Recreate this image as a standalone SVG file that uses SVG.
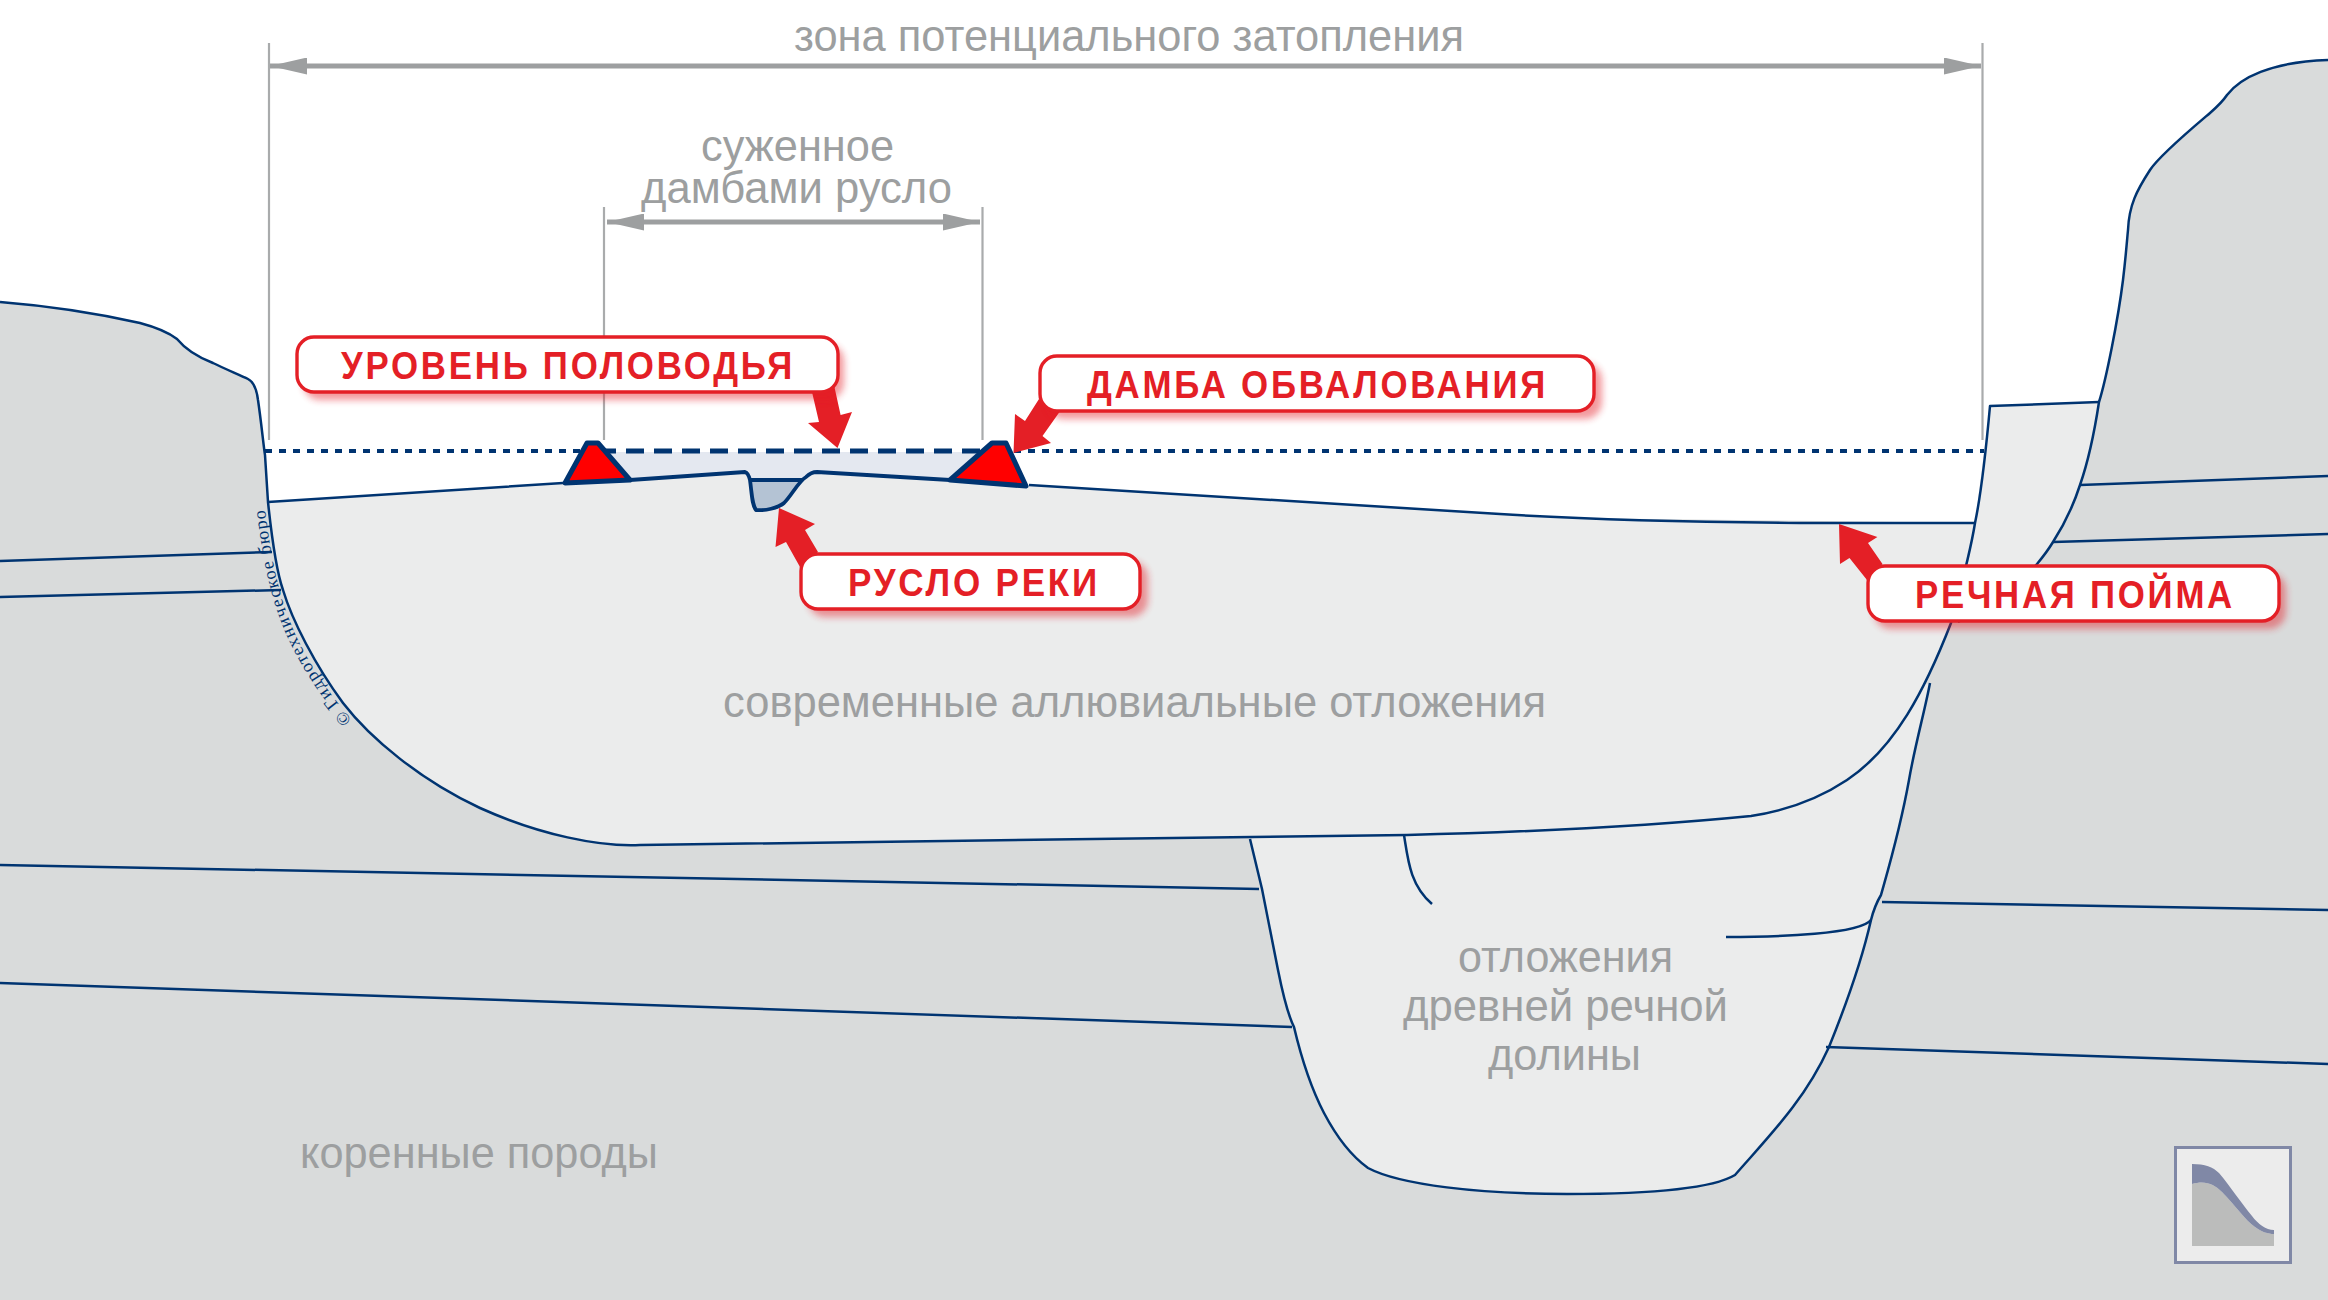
<svg xmlns="http://www.w3.org/2000/svg" width="2328" height="1300" viewBox="0 0 2328 1300">
<style>
.rock{fill:#d9dbdb;stroke:none}
.light{fill:#ebecec;stroke:none}
.ln{fill:none;stroke:#003471;stroke-width:2.5;stroke-linejoin:round}
.dim{fill:none;stroke:#a9abac;stroke-width:2.2}
.dimarrow{fill:none;stroke:#9d9fa0;stroke-width:5}
.t{font-family:"Liberation Sans",Arial,sans-serif;font-size:44px;fill:#9d9fa0}
.lb{fill:#fff;stroke:#e41f26;stroke-width:3.4}
.sh{fill:#e41f26;opacity:.45;filter:url(#blur)}
.lt{font-family:"Liberation Sans",Arial,sans-serif;font-size:38px;font-weight:bold;fill:#e41f26;letter-spacing:3px}
.ra{fill:#e41f26}
.dam{fill:#ff0000;stroke:#003471;stroke-width:5;stroke-linejoin:round}
</style>
<defs>
<filter id="blur" x="-10%" y="-40%" width="120%" height="180%"><feGaussianBlur stdDeviation="3.5"/></filter>
<marker id="ah" viewBox="0 0 37 17" refX="37" refY="8.5" markerWidth="37" markerHeight="17" markerUnits="userSpaceOnUse" orient="auto-start-reverse"><path d="M0,0L37,8.5L0,17Z" fill="#9d9fa0"/></marker>
<path id="cp" d="M352,720C320,684 293,640 280,592C272,562 268,535 264,500"/>
</defs>
<rect width="2328" height="1300" fill="#fff"/>

<g id="bedrock">
<path class="rock" d="M0,302C50,306 100,314 140,323C155,327 168,332 177,339C186,350 200,358 213,363C225,369 240,375 248,379C254,382 257,392 258,400C261,420 264,450 265,455L268,502L1975,523L2099,402C2106,380 2118,320 2123,280C2126,255 2127,240 2128,230C2129,205 2137,190 2150,170C2160,155 2190,130 2210,113C2218,106 2223,101 2227,95C2240,78 2270,62 2328,60V1300H0Z"/>
</g>
<g id="ancient-valley">
<path class="light" d="M1250,839L1262,889L1278,970C1283,995 1288,1015 1294,1027C1303,1065 1312,1090 1324,1113C1334,1132 1350,1155 1368,1168C1400,1185 1480,1194 1567,1194C1640,1194 1710,1190 1735,1175C1770,1135 1805,1100 1829,1047C1848,1000 1862,960 1871,920C1874,908 1878,900 1881,895C1888,870 1900,830 1909,780C1915,745 1925,710 1930,683Z"/>
</g>
<g id="right-band">
<path class="light" d="M1990,406L2099,402C2094,435 2088,462 2080,485C2072,510 2062,528 2053,542C2047,552 2042,558 2037,564C2015,588 1990,606 1958,622L1975,523Z"/>
</g>
<g id="alluvium">
<path class="light" d="M268,502L563,483L630,480L745,472C748,473 749,476 750,480C752,495 752,505 756,510C765,511 778,508 784,503C792,495 798,482 806,477C809,474 812,472 817,472L950,480L1029,485L1500,514C1580,519 1700,522 1800,523L1975,523C1986,470 1988,440 1990,406L1975,523C1970,555 1960,590 1951,623C1925,690 1895,748 1847,780C1820,798 1790,810 1751,816C1650,826 1530,832 1407,835C1200,839 800,841 640,845C600,847 540,835 480,808C420,780 370,738 343,703C315,665 292,620 283,590C276,570 272,540 268,502Z"/>
</g>
<g id="water">
<path d="M598,452H992L950,480L817,472C812,472 809,474 806,477L803,480H749L745,472L630,480Z" fill="#e4e8f0"/>
<path d="M749,480H803C797,487 790,498 784,503C778,508 765,511 756,510C752,505 752,495 749,480Z" fill="#b4c3d4"/>
</g>

<g id="connectors">
<path class="ln" d="M0,302C50,306 100,314 140,323C155,327 168,332 177,339C186,350 200,358 213,363C225,369 240,375 248,379C254,382 257,392 258,400C261,420 264,450 265,455L268,502C272,540 276,570 283,590C292,620 315,665 343,703C370,738 420,780 480,808C540,835 600,847 640,845C800,841 1200,839 1407,835C1530,832 1650,826 1751,816C1790,810 1820,798 1847,780C1895,748 1925,690 1951,623C1960,590 1970,555 1975,523C1982,490 1986,450 1990,406L2099,402"/>
<path class="ln" d="M2328,60C2270,62 2240,78 2227,95C2223,101 2218,106 2210,113C2190,130 2160,155 2150,170C2137,190 2129,205 2128,230C2127,240 2126,255 2123,280C2118,320 2106,380 2099,402C2094,435 2088,462 2080,485C2072,510 2062,528 2053,542C2047,552 2042,558 2037,564C2015,588 1990,606 1958,622"/>
<path class="ln" d="M268,502L563,483M1029,485L1500,514C1580,519 1700,522 1800,523L1975,523"/>
<path class="ln" d="M1250,839L1262,889L1278,970C1283,995 1288,1015 1294,1027C1303,1065 1312,1090 1324,1113C1334,1132 1350,1155 1368,1168C1400,1185 1480,1194 1567,1194C1640,1194 1710,1190 1735,1175C1770,1135 1805,1100 1829,1047C1848,1000 1862,960 1871,920C1874,908 1878,900 1881,895C1888,870 1900,830 1909,780C1915,745 1925,710 1930,683"/>
<path class="ln" d="M1404,835C1408,860 1410,885 1432,904M1726,937C1780,937 1860,934 1871,920"/>
<path class="ln" d="M0,865L1259,889M0,983L1292,1027M1882,902L2328,910M1826,1047L2328,1064M0,561L272,552M0,597L281,590M2080,485L2328,476M2053,542L2328,534"/>
<path d="M630,480L745,472C748,473 749,476 750,480C752,495 752,505 756,510C765,511 778,508 784,503C792,495 798,482 806,477C809,474 812,472 817,472L950,480M749,480H803" fill="none" stroke="#003471" stroke-width="3.8" stroke-linejoin="round"/>
<path d="M265,451H590M1000,451H1984" fill="none" stroke="#003471" stroke-width="3.8" stroke-dasharray="7 7"/>
<path d="M598,451H992" fill="none" stroke="#003471" stroke-width="5" stroke-dasharray="18 10"/>
<path class="dim" d="M269,43V440M1982.5,43V440M604,207V440M982.5,207V440"/>
<path class="dimarrow" d="M270,66H1981" marker-start="url(#ah)" marker-end="url(#ah)"/>
<path class="dimarrow" d="M607,222H980" marker-start="url(#ah)" marker-end="url(#ah)"/>
</g>

<g id="dam-left"><path class="dam" d="M565,483L587,443H598L630,480Z"/></g>
<g id="dam-right"><path class="dam" d="M950,480L992,443H1006L1026,486Z"/></g>

<g id="arrows">
<path class="ra" d="M812,392L819,422L808,423L837.5,448L852,412L840.6,415L834,385Z"/>
<path class="ra" d="M1039,399L1025,421L1015,414L1013.5,453L1051,443L1042.5,436L1059.5,412Z"/>
<path class="ra" d="M818,552L805,530L815,524L779,508L775.5,547L786,542L800,567Z"/>
<path class="ra" d="M1882.5,564L1868,543L1877.4,537L1839,524L1840,564L1849.5,558L1867,580Z"/>
</g>

<g id="label-high-water">
<rect class="sh" x="303" y="344" width="541" height="56" rx="17"/>
<rect class="lb" x="297" y="337" width="541" height="55" rx="17"/>
<text class="lt" x="341" y="379" textLength="454" lengthAdjust="spacingAndGlyphs">УРОВЕНЬ ПОЛОВОДЬЯ</text>
</g>
<g id="label-dam">
<rect class="sh" x="1047" y="363" width="555" height="56" rx="17"/>
<rect class="lb" x="1040" y="356" width="554" height="55" rx="17"/>
<text class="lt" x="1087" y="398" textLength="461" lengthAdjust="spacingAndGlyphs">ДАМБА ОБВАЛОВАНИЯ</text>
</g>
<g id="label-channel">
<rect class="sh" x="808" y="561" width="340" height="56" rx="17"/>
<rect class="lb" x="801" y="554" width="339" height="55" rx="17"/>
<text class="lt" x="848" y="596" textLength="252" lengthAdjust="spacingAndGlyphs">РУСЛО РЕКИ</text>
</g>
<g id="label-floodplain">
<rect class="sh" x="1874" y="573" width="412" height="56" rx="17"/>
<rect class="lb" x="1868" y="566" width="411" height="55" rx="17"/>
<text class="lt" x="1915" y="608" textLength="320" lengthAdjust="spacingAndGlyphs">РЕЧНАЯ ПОЙМА</text>
</g>

<g id="texts">
<text class="t" x="794" y="51" textLength="670" lengthAdjust="spacingAndGlyphs">зона потенциального затопления</text>
<text class="t" x="701" y="161" textLength="193" lengthAdjust="spacingAndGlyphs">суженное</text>
<text class="t" x="641" y="203" textLength="311" lengthAdjust="spacingAndGlyphs">дамбами русло</text>
<text class="t" x="723" y="717" textLength="823" lengthAdjust="spacingAndGlyphs">современные аллювиальные отложения</text>
<text class="t" x="1458" y="972" textLength="215" lengthAdjust="spacingAndGlyphs">отложения</text>
<text class="t" x="1403" y="1021" textLength="325" lengthAdjust="spacingAndGlyphs">древней речной</text>
<text class="t" x="1488" y="1070" textLength="153" lengthAdjust="spacingAndGlyphs">долины</text>
<text class="t" x="300" y="1168" textLength="358" lengthAdjust="spacingAndGlyphs">коренные породы</text>
<text font-family="Liberation Serif,serif" font-size="18" fill="#003471"><textPath href="#cp" textLength="232" lengthAdjust="spacing">© Гидротехническое бюро</textPath></text>
</g>

<g id="icon">
<rect x="2175.5" y="1147.5" width="115" height="115" fill="#ececec" stroke="#8088a6" stroke-width="3"/>
<path d="M2192,1184C2205,1180 2214,1184 2222,1192C2235,1205 2245,1220 2255,1227C2262,1232 2268,1234 2274,1234V1246H2192Z" fill="#bbbcbb"/>
<path d="M2192,1164C2205,1164 2213,1167 2219,1173C2230,1186 2242,1204 2252,1216C2258,1224 2266,1230 2274,1230V1234C2268,1234 2262,1232 2255,1227C2245,1220 2235,1205 2222,1192C2214,1184 2205,1180 2192,1184Z" fill="#8088a6"/>
</g>
</svg>
